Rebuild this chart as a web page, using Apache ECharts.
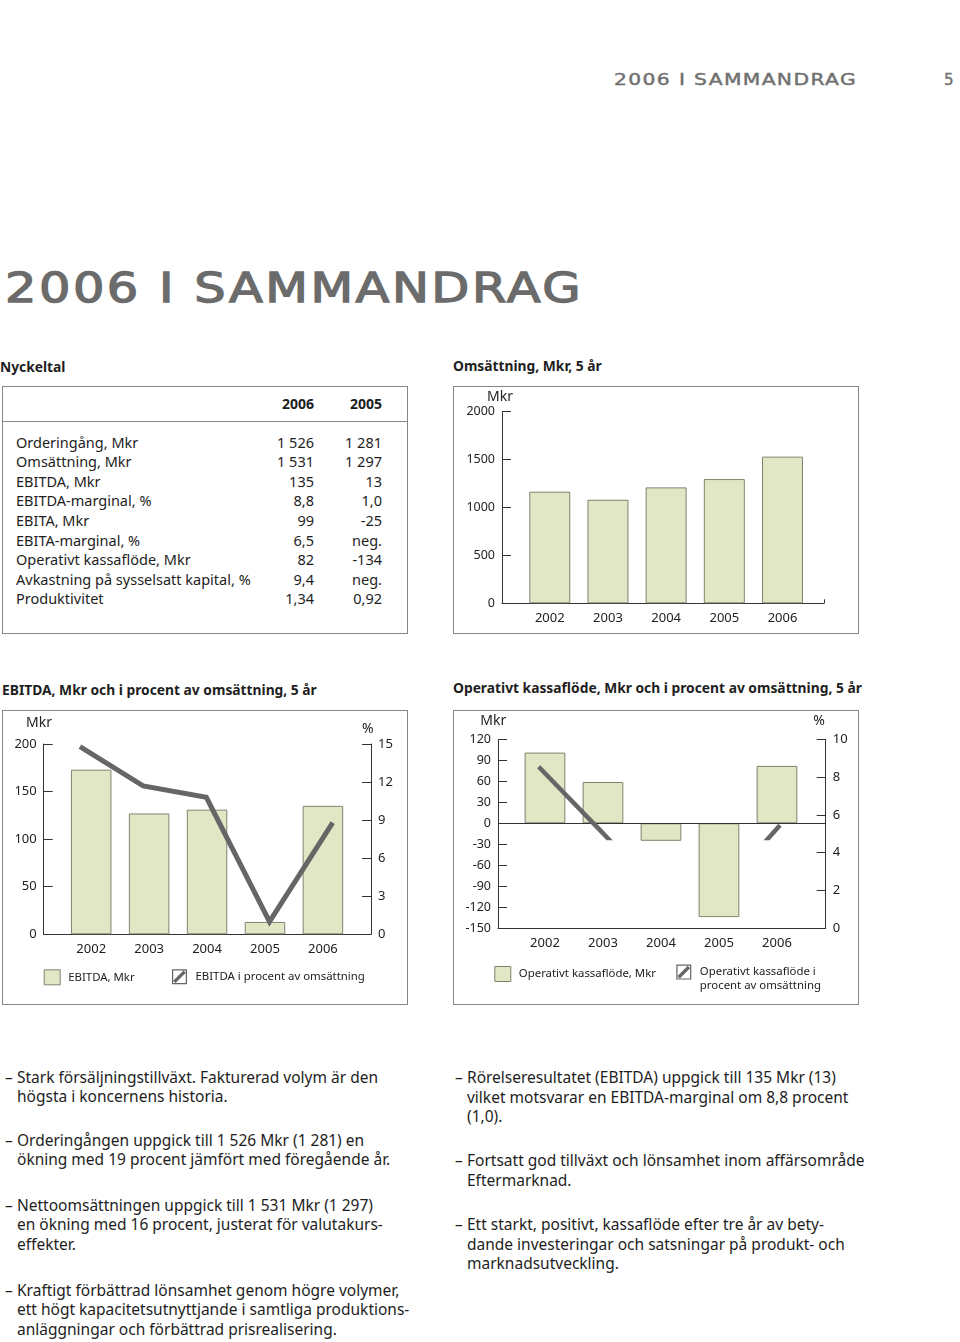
<!DOCTYPE html>
<html><head><meta charset="utf-8">
<script src="https://cdn.jsdelivr.net/npm/echarts@6/dist/echarts.min.js"></script>
<style>
html,body{margin:0;padding:0;background:#fff;}
#page{position:relative;width:960px;height:1342px;overflow:hidden;font-family:"Noto Sans",sans-serif;color:#1e1e1e;}
.a{position:absolute;white-space:nowrap;}
.box{position:absolute;border:1px solid #858585;box-sizing:border-box;}
.h{font-weight:bold;font-size:13.8px;line-height:20px;}
.fit{display:inline-block;transform-origin:0 50%;}
#chart{position:absolute;left:0;top:0;width:960px;height:1342px;}
.tb{position:absolute;font-size:14.5px;line-height:20px;white-space:nowrap;}
.bl{position:absolute;font-size:15.5px;line-height:19.6px;white-space:nowrap;}
.bl:before{content:"\2013";position:absolute;left:-12px;}
</style></head>
<body>
<div id="page">
  <div class="a fit" data-fit="243" style="left:614px;top:70px;font:15px/20px 'DejaVu Sans';color:#707070;letter-spacing:1px;-webkit-text-stroke:0.4px #707070">2006 I SAMMANDRAG</div>
  <div class="a" style="left:944px;top:70px;font:15px/20px 'DejaVu Sans';color:#707070;-webkit-text-stroke:0.4px #707070">5</div>
  <div class="a fit" data-fit="578" style="left:5px;top:268px;font:40px/40px 'DejaVu Sans';color:#6b6b6b;letter-spacing:2px;-webkit-text-stroke:1.3px #6b6b6b">2006 I SAMMANDRAG</div>

  <div class="a h" style="left:0px;top:357px">Nyckeltal</div>
  <div class="box" style="left:2px;top:386px;width:406px;height:248px"></div>
  <div class="a" style="left:2px;top:421px;width:406px;height:1px;background:#858585"></div>
  <div id="table"></div>

  <div class="a h" style="left:453px;top:356px">Omsättning, Mkr, 5 år</div>
  <div class="box" style="left:453px;top:386px;width:406px;height:248px"></div>

  <div class="a h" style="left:2px;top:680px">EBITDA, Mkr och i procent av omsättning, 5 år</div>
  <div class="box" style="left:2px;top:710px;width:406px;height:295px"></div>

  <div class="a h" style="left:453px;top:678px">Operativt kassaflöde, Mkr och i procent av omsättning, 5 år</div>
  <div class="box" style="left:453px;top:710px;width:406px;height:295px"></div>

  <div class="bl" style="left:17px;top:1067.5px">Stark försäljningstillväxt. Fakturerad volym är den<br>högsta i koncernens historia.</div>
  <div class="bl" style="left:17px;top:1130.5px">Orderingången uppgick till 1 526 Mkr (1 281) en<br>ökning med 19 procent jämfört med föregående år.</div>
  <div class="bl" style="left:17px;top:1195.5px">Nettoomsättningen uppgick till 1 531 Mkr (1 297)<br>en ökning med 16 procent, justerat för valutakurs-<br>effekter.</div>
  <div class="bl" style="left:17px;top:1280.5px">Kraftigt förbättrad lönsamhet genom högre volymer,<br>ett högt kapacitetsutnyttjande i samtliga produktions-<br>anläggningar och förbättrad prisrealisering.</div>

  <div class="bl" style="left:467px;top:1068px">Rörelseresultatet (EBITDA) uppgick till 135 Mkr (13)<br>vilket motsvarar en EBITDA-marginal om 8,8 procent<br>(1,0).</div>
  <div class="bl" style="left:467px;top:1151px">Fortsatt god tillväxt och lönsamhet inom affärsområde<br>Eftermarknad.</div>
  <div class="bl" style="left:467px;top:1215px">Ett starkt, positivt, kassaflöde efter tre år av bety-<br>dande investeringar och satsningar på produkt- och<br>marknadsutveckling.</div>

  <div id="chart"></div>
</div>
<script>
// ---------- data ----------
const years = [2002, 2003, 2004, 2005, 2006];
const salesMkr = [1165, 1081, 1210, 1297, 1531];
const ebitdaMkr = [173, 127, 131, 13, 135];
const ebitdaPct = [14.8, 11.7, 10.8, 1.0, 8.8];
const cashFlowMkr = [101, 59, -25, -134, 82];
const cashFlowPct = [8.55, 5.25, 1.9, 1.9, 5.45];

const tableHeader = ['2006', '2005'];
const tableLabels = ['Orderingång, Mkr', 'Omsättning, Mkr', 'EBITDA, Mkr', 'EBITDA-marginal, %', 'EBITA, Mkr', 'EBITA-marginal, %', 'Operativt kassaflöde, Mkr', 'Avkastning på sysselsatt kapital, %', 'Produktivitet'];
const table2006 = ['1 526', '1 531', '135', '8,8', '99', '6,5', '82', '9,4', '1,34'];
const table2005 = ['1 281', '1 297', '13', '1,0', '-25', 'neg.', '-134', 'neg.', '0,92'];

const names = {
  ebitdaBar: 'EBITDA, Mkr',
  ebitdaLine: 'EBITDA i procent av omsättning',
  cashBar: 'Operativt kassaflöde, Mkr',
  cashLine: 'Operativt kassaflöde i procent av omsättning'
};

// ---------- table ----------
(function(){
  const t = document.getElementById('table');
  let html = '';
  html += `<div class="tb" style="font-weight:bold;font-size:14px;right:${960-314}px;top:394.3px">${tableHeader[0]}</div>`;
  html += `<div class="tb" style="font-weight:bold;font-size:14px;right:${960-382}px;top:394.3px">${tableHeader[1]}</div>`;
  tableLabels.forEach((l, i) => {
    const top = 431.7 + 19.58 * i;
    html += `<div class="tb" style="left:16px;top:${top}px">${l}</div>`;
    html += `<div class="tb" style="right:${960-314}px;top:${top}px">${table2006[i]}</div>`;
    html += `<div class="tb" style="right:${960-382}px;top:${top}px">${table2005[i]}</div>`;
  });
  t.innerHTML = html;
})();

document.querySelectorAll('[data-fit]').forEach(el => {
  const w = el.getBoundingClientRect().width;
  el.style.transform = 'scaleX(' + (parseFloat(el.dataset.fit) / w) + ')';
});

// ---------- chart ----------
const BAR_FILL = '#e1e7c5', BAR_BORDER = '#80826f', AX = '#333', LINE = '#666';
const pairs = (vals) => years.map((y, i) => [y, vals[i]]);
const lineIcon = 'path://M0,0L16,0L16,16L0,16Z M1.3,1.3L1.3,14.7L14.7,14.7L14.7,1.3Z M1.3,12.2L12.2,1.3L14.7,3.8L3.8,14.7Z';

function xBase(grid, min, max) {
  return {
    type: 'value', gridIndex: grid, min: min, max: max, position: 'bottom',
    axisLine: { show: true, onZero: false, lineStyle: { color: AX, width: 1 } },
    axisTick: { show: false },
    splitLine: { show: false },
    axisLabel: { customValues: years, formatter: v => String(Math.round(v)), margin: 8, fontSize: 13, color: '#222' }
  };
}
function xHidden(grid, min, max) {
  return { type: 'value', gridIndex: grid, min: min, max: max, show: false, splitLine: { show: false } };
}
function yBase(grid, min, max, step, pos, name, gap, shift, fs) {
  return {
    type: 'value', gridIndex: grid, min: min, max: max, interval: step, position: pos,
    name: name, nameLocation: 'end', nameGap: gap,
    nameTextStyle: { fontSize: 14, color: '#222', padding: [0, shift, 0, 0] },
    axisLine: { show: true, onZero: false, lineStyle: { color: AX, width: 1 } },
    axisTick: { show: true, inside: true, length: 9, lineStyle: { color: AX } },
    splitLine: { show: false },
    axisLabel: { margin: 7, fontSize: fs, color: '#222', formatter: v => String(v) }
  };
}
const barStyle = { color: BAR_FILL, borderColor: BAR_BORDER, borderWidth: 1 };

const x0 = xBase(0, 2001.179, 2006.713);
x0.axisTick = { show: true, inside: true, length: 4, customValues: [2006.713], lineStyle: { color: AX } };

const legendText = { fontSize: 11.4, color: '#222', padding: [0, 0, 0, 3] };

const option = {
  animation: false,
  textStyle: { fontFamily: 'Noto Sans' },
  grid: [
    { left: 502, top: 411.7, width: 322, height: 191.6 },
    { left: 43.7, top: 744, width: 327.3, height: 190.3 },
    { left: 498, top: 739.3, width: 327.7, height: 189 },
    { left: 498, top: 739.3, width: 327.7, height: 98.7 }
  ],
  xAxis: [
    x0,
    xBase(1, 2001.18, 2006.83),
    xHidden(1, 2001.426, 2006.606),
    xBase(2, 2001.19, 2006.84),
    xHidden(3, 2001.325, 2006.758)
  ],
  yAxis: [
    yBase(0, 0, 2000, 500, 'left', 'Mkr', 8, 4, 12.5),
    yBase(1, 0, 200, 50, 'left', 'Mkr', 14, 9.4, 13),
    yBase(1, 0, 15, 3, 'right', '%', 7.7, 6.6, 13),
    yBase(2, -150, 120, 30, 'left', 'Mkr', 11.6, 9.4, 12.5),
    yBase(2, 0, 10, 2, 'right', '%', 11.6, 13.4, 13),
    { type: 'value', gridIndex: 3, min: 4.778, max: 10, show: false, splitLine: { show: false } }
  ],
  legend: [
    { left: 43.7, top: 969.3, padding: 0, itemWidth: 16, itemHeight: 15, selectedMode: false,
      textStyle: legendText,
      data: [{ name: names.ebitdaBar, icon: 'rect', itemStyle: barStyle }] },
    { left: 172, top: 969.3, padding: 0, itemWidth: 16, itemHeight: 15, selectedMode: false,
      textStyle: legendText,
      data: [{ name: names.ebitdaLine, icon: lineIcon, itemStyle: { color: LINE, borderWidth: 0 } }] },
    { left: 494.3, top: 966, padding: 0, itemWidth: 16, itemHeight: 15, selectedMode: false,
      textStyle: legendText,
      data: [{ name: names.cashBar, icon: 'rect', itemStyle: barStyle }] },
    { left: 676.3, top: 952, padding: 0, itemWidth: 16, itemHeight: 15, selectedMode: false,
      formatter: () => ' \nOperativt kassaflöde i\nprocent av omsättning',
      textStyle: { fontSize: 11.4, color: '#222', lineHeight: 13.4, padding: [0, 0, 0, 3] },
      data: [{ name: names.cashLine, icon: lineIcon, itemStyle: { color: LINE, borderWidth: 0 } }] }
  ],
  series: [
    { type: 'bar', name: 'Omsättning', xAxisIndex: 0, yAxisIndex: 0, barWidth: 41,
      itemStyle: barStyle, data: pairs(salesMkr) },
    { type: 'bar', name: names.ebitdaBar, xAxisIndex: 1, yAxisIndex: 1, barWidth: 40.5,
      itemStyle: barStyle, data: pairs(ebitdaMkr) },
    { type: 'line', name: names.ebitdaLine, xAxisIndex: 2, yAxisIndex: 2, symbol: 'none', z: 5,
      color: LINE, lineStyle: { color: LINE, width: 5, join: 'miter', cap: 'butt' }, data: pairs(ebitdaPct) },
    { type: 'bar', name: names.cashBar, xAxisIndex: 3, yAxisIndex: 3, barWidth: 40.7,
      itemStyle: barStyle, data: pairs(cashFlowMkr),
      markLine: { silent: true, symbol: 'none', label: { show: false },
        lineStyle: { color: AX, type: 'solid', width: 1 }, data: [{ yAxis: 0 }] } },
    { type: 'line', name: names.cashLine, xAxisIndex: 4, yAxisIndex: 5, symbol: 'none', z: 5, clip: true,
      color: LINE, lineStyle: { color: LINE, width: 4.5, join: 'miter', cap: 'butt' }, data: pairs(cashFlowPct) }
  ]
};
const chart = echarts.init(document.getElementById('chart'), null, { renderer: 'canvas' });
chart.setOption(option);
</script>
</body></html>
